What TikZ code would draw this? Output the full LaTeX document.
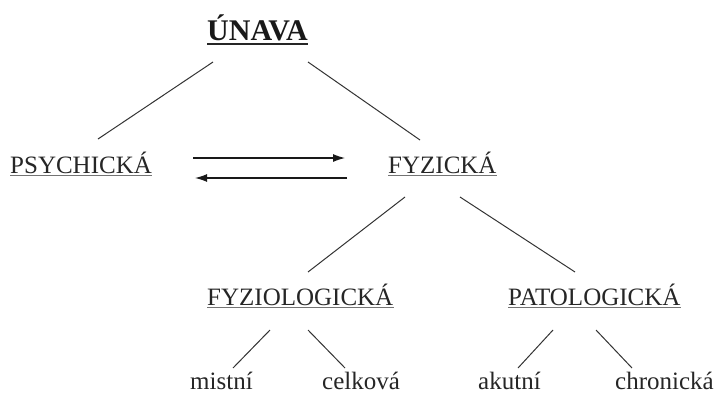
\documentclass[tikz,border=0pt]{standalone}
\usepackage{fontspec}
\setmainfont{Liberation Serif}
\usetikzlibrary{arrows.meta}
\begin{document}
\begin{tikzpicture}[x=1pt,y=-1pt,
  lbl/.style={inner sep=0pt,anchor=base west,text=black!85,font=\fontsize{25}{30}\selectfont},
  ttl/.style={inner sep=0pt,anchor=base west,text=black!90,font=\fontsize{30}{34}\selectfont\bfseries},
  link/.style={draw=black!80,line width=1pt},
  uline/.style={draw=black!55,line width=0.9pt},
  arr/.style={draw=black!90,line width=1.1pt,-{Latex[length=12pt,width=8pt]}}]
\useasboundingbox (0,0) rectangle (719,394);
% nodes
\node[ttl] (unava) at (207,40) {ÚNAVA};
\node[lbl] (psych) at (10,173) {PSYCHICKÁ};
\node[lbl] (fyz) at (388,173) {FYZICKÁ};
\node[lbl] (fyziol) at (207,305) {FYZIOLOGICKÁ};
\node[lbl] (patol) at (508,305) {PATOLOGICKÁ};
\node[lbl] (mistni) at (190,389) {mistní};
\node[lbl] (celkova) at (322,389) {celková};
\node[lbl] (akutni) at (478,389) {akutní};
\node[lbl] (chron) at (615,389) {chronická};
% underlines
\draw[draw=black!85,line width=2.4pt] ([yshift=-4]unava.base west) -- ([yshift=-4]unava.base east);
\foreach \n in {psych,fyz,fyziol,patol}
  \draw[uline] ([yshift=-2.5]\n.base west) -- ([yshift=-2.5]\n.base east);
% connectors
\draw[link] ([shift={(6,22)}]unava.base west) -- ([shift={(88,-34)}]psych.base west);
\draw[link] ([shift={(101,22)}]unava.base west) -- ([shift={(32,-33)}]fyz.base west);
\draw[link] ([shift={(17,24)}]fyz.base west) -- ([shift={(101,-33)}]fyziol.base west);
\draw[link] ([shift={(72,24)}]fyz.base west) -- ([shift={(67,-33)}]patol.base west);
\draw[link] ([shift={(63,25)}]fyziol.base west) -- ([shift={(43,-21)}]mistni.base west);
\draw[link] ([shift={(101,25)}]fyziol.base west) -- ([shift={(23,-21)}]celkova.base west);
\draw[link] ([shift={(45,25)}]patol.base west) -- ([shift={(40,-21)}]akutni.base west);
\draw[link] ([shift={(88,25)}]patol.base west) -- ([shift={(17,-21)}]chron.base west);
% arrows
\draw[arr] ([shift={(41,-15)}]psych.base east) -- ([shift={(-43,-15)}]fyz.base west);
\draw[arr] ([shift={(-41,5)}]fyz.base west) -- ([shift={(43,5)}]psych.base east);
\end{tikzpicture}
\end{document}
